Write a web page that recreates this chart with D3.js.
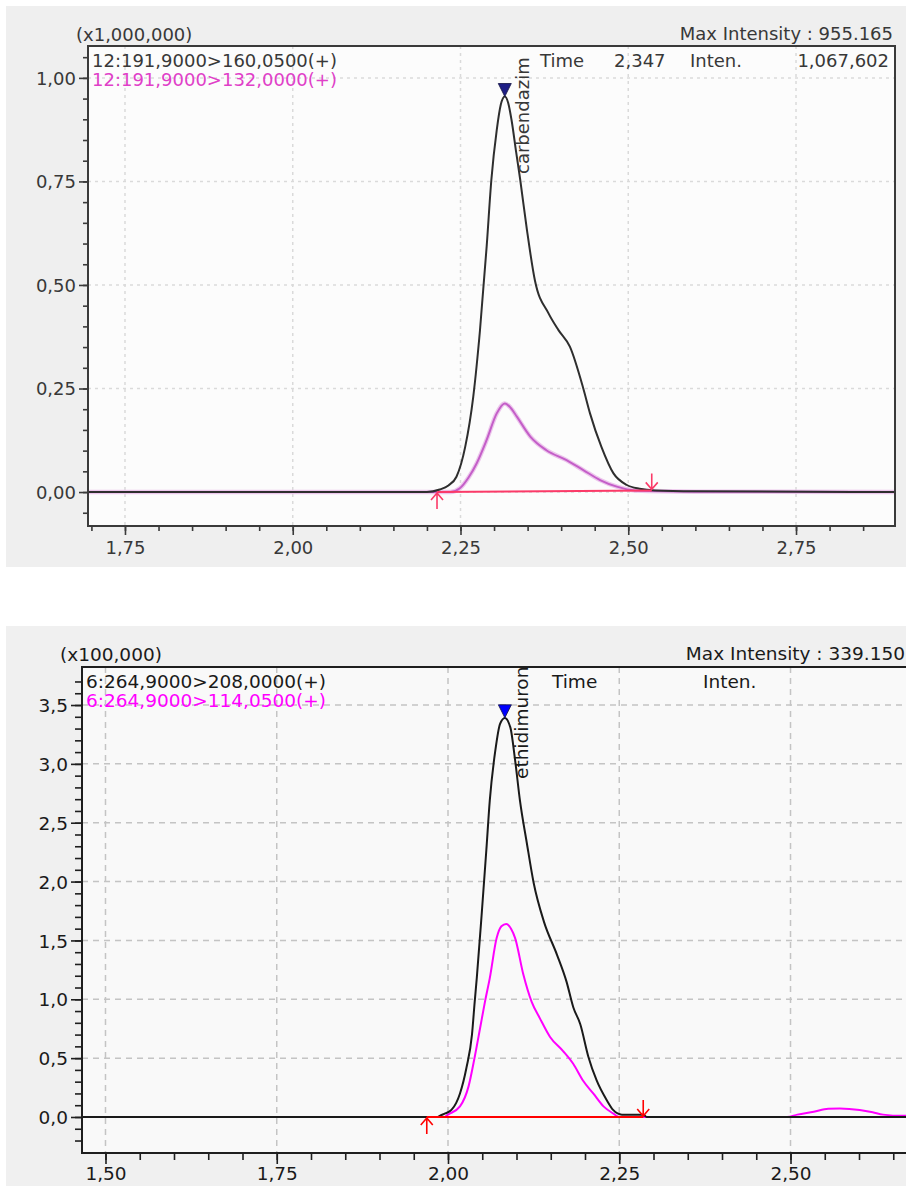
<!DOCTYPE html>
<html>
<head>
<meta charset="utf-8">
<title>MRM chromatograms</title>
<script src="https://cdn.jsdelivr.net/npm/d3@7"></script>
<style>
    body { margin: 0; background: #fff; }
    svg { display: block; }
</style>
</head>
<body>
<svg id="chart" width="906" height="1186"></svg>
<script>
/*global d3*/
(function () {
    "use strict";

    // ---- carbendazim, intensity in units of 1,000,000 ----
    var carbTime = [1.69, 2.20, 2.219, 2.232, 2.244, 2.257, 2.269, 2.279, 2.289, 2.296, 2.304, 2.310, 2.316, 2.321, 2.326, 2.333, 2.339, 2.349, 2.361, 2.381, 2.396, 2.413, 2.433, 2.443, 2.460, 2.478, 2.498, 2.517, 2.54, 2.60, 2.90];
    var carbQuant = [0, 0, 0.006, 0.016, 0.037, 0.109, 0.23, 0.39, 0.593, 0.754, 0.874, 0.935, 0.955, 0.94, 0.899, 0.82, 0.754, 0.633, 0.51, 0.432, 0.391, 0.351, 0.25, 0.19, 0.109, 0.045, 0.017, 0.008, 0.004, 0.002, 0];
    var carbQualTime = [1.69, 2.235, 2.249, 2.262, 2.274, 2.289, 2.304, 2.316, 2.325, 2.334, 2.354, 2.378, 2.408, 2.433, 2.458, 2.483, 2.51, 2.60, 2.90];
    var carbQual = [0, 0, 0.009, 0.035, 0.069, 0.126, 0.19, 0.214, 0.203, 0.182, 0.134, 0.101, 0.077, 0.053, 0.029, 0.013, 0.004, 0.001, 0];
    var carbBounds = [2.215, 2.535];
    var carbBoundLevel = [0, 0.004];
    var carbXTicks = [1.75, 2.00, 2.25, 2.50, 2.75];
    var carbYTicks = [0, 0.25, 0.50, 0.75, 1.00];
    var carbLegend = ["12:191,9000>160,0500(+)", "12:191,9000>132,0000(+)"];
    var carbInfo = ["Time", "2,347", "Inten.", "1,067,602"];

    // ---- ethidimuron, intensity in units of 100,000 ----
    var ethTime = [1.46, 1.985, 1.988, 1.996, 2.005, 2.012, 2.0175, 2.027, 2.035, 2.039, 2.042, 2.049, 2.056, 2.061, 2.069, 2.076, 2.083, 2.091, 2.098, 2.105, 2.115, 2.125, 2.140, 2.159, 2.173, 2.183, 2.193, 2.205, 2.217, 2.232, 2.241, 2.254, 2.285, 2.29, 2.67];
    var ethQuant = [0, 0, 0.01, 0.03, 0.06, 0.12, 0.2, 0.42, 0.70, 0.98, 1.18, 1.71, 2.27, 2.69, 3.11, 3.34, 3.39, 3.31, 3.03, 2.69, 2.33, 1.99, 1.66, 1.38, 1.15, 0.93, 0.79, 0.51, 0.31, 0.14, 0.06, 0.02, 0.02, 0, 0];
    var ethQualTime = [1.46, 1.995, 2.0, 2.0175, 2.030, 2.039, 2.047, 2.054, 2.061, 2.071, 2.078, 2.085, 2.092, 2.098, 2.110, 2.122, 2.134, 2.149, 2.168, 2.183, 2.197, 2.212, 2.227, 2.241, 2.25, 2.495, 2.51, 2.534, 2.555, 2.572, 2.601, 2.62, 2.635, 2.664, 2.67];
    var ethQual = [0, 0, 0.02, 0.09, 0.26, 0.51, 0.76, 0.98, 1.18, 1.52, 1.62, 1.64, 1.60, 1.52, 1.21, 0.98, 0.84, 0.68, 0.56, 0.45, 0.31, 0.20, 0.09, 0.03, 0, 0, 0.02, 0.045, 0.07, 0.073, 0.06, 0.04, 0.02, 0.01, 0.01];
    var ethBounds = [1.969, 2.285];
    var ethBoundLevel = [0, 0];
    var ethXTicks = [1.50, 1.75, 2.00, 2.25, 2.50];
    var ethYTicks = [0, 0.5, 1.0, 1.5, 2.0, 2.5, 3.0, 3.5];
    var ethLegend = ["6:264,9000>208,0000(+)", "6:264,9000>114,0500(+)"];
    var ethInfo = ["Time", "Inten."];

    var peakNames = ["carbendazim", "ethidimuron"];
    var peakTimes = [2.316, 2.083];
    var peakHeights = [0.955, 3.3915];
    var multipliers = ["(x1,000,000)", "(x100,000)"];
    var maxIntensities = ["Max Intensity : 955.165", "Max Intensity : 339.150"];

    var svg = d3.select("#chart"),
        font = "DejaVu Sans",
        locale = d3.formatLocale({decimal: ",", thousands: ".", grouping: [3], currency: ["", ""]});

    function pairs(t, v) {
        return d3.zip(t, v);
    }

    function drawPanel(p) {
        var g = svg.append("g"),
            x = p.x,
            y = p.y,
            left = x.range()[0],
            right = x.range()[1],
            top = y.range()[1],
            bottom = y.range()[0],
            line = d3.line().curve(d3.curveMonotoneX)
                .x(function (d) { return x(d[0]); })
                .y(function (d) { return y(d[1]); }),
            plot,
            px,
            py,
            axis;

        g.append("rect")
            .attr("x", p.bg[0]).attr("y", p.bg[1])
            .attr("width", p.bg[2]).attr("height", p.bg[3])
            .attr("fill", p.bgColor);
        g.append("rect")
            .attr("x", left).attr("y", top)
            .attr("width", p.frameRight - left).attr("height", bottom - top)
            .attr("fill", p.plotColor);

        g.append("clipPath").attr("id", p.id + "-clip")
            .append("rect")
            .attr("x", left).attr("y", top)
            .attr("width", right - left).attr("height", bottom - top);

        // grid
        g.append("g").selectAll("line").data(p.xTicks).join("line")
            .attr("x1", function (d) { return x(d); })
            .attr("x2", function (d) { return x(d); })
            .attr("y1", top).attr("y2", bottom)
            .attr("stroke", p.gridColor).attr("stroke-width", p.gridWidth)
            .attr("stroke-dasharray", p.gridDash);
        g.append("g").selectAll("line").data(p.yTicks).join("line")
            .attr("x1", left).attr("x2", right)
            .attr("y1", function (d) { return y(d); })
            .attr("y2", function (d) { return y(d); })
            .attr("stroke", p.gridColor).attr("stroke-width", p.gridWidth)
            .attr("stroke-dasharray", p.gridDash);

        plot = g.append("g").attr("clip-path", "url(#" + p.id + "-clip)");

        if (p.qualHalo) {
            plot.append("path").datum(pairs(p.qualTime, p.qual))
                .attr("d", line).attr("fill", "none")
                .attr("stroke", p.qualHalo).attr("stroke-width", 4.5);
        }
        plot.append("path").datum(pairs(p.qualTime, p.qual))
            .attr("d", line).attr("fill", "none")
            .attr("stroke", p.qualColor).attr("stroke-width", p.lineWidth);
        plot.append("path").datum(pairs(p.time, p.quant))
            .attr("d", line).attr("fill", "none")
            .attr("stroke", p.quantColor).attr("stroke-width", p.lineWidth);

        // integration baseline and its start / end marks
        plot.append("path").datum(pairs(p.bounds, p.boundLevel))
            .attr("d", d3.line().x(function (d) { return x(d[0]); }).y(function (d) { return y(d[1]); }))
            .attr("fill", "none")
            .attr("stroke", p.baseColor).attr("stroke-width", 2);

        px = x(p.bounds[0]);
        py = y(p.boundLevel[0]);
        g.append("path")
            .attr("d", "M" + px + "," + (py + 17) + "V" + (py + 1) +
                "M" + (px - 6) + "," + (py + 8) + "L" + px + "," + (py + 1) + "L" + (px + 6) + "," + (py + 8))
            .attr("fill", "none").attr("stroke", p.baseColor).attr("stroke-width", 1.6);
        px = x(p.bounds[1]);
        py = y(p.boundLevel[1]);
        g.append("path")
            .attr("d", "M" + px + "," + (py - 17) + "V" + (py - 1) +
                "M" + (px - 6) + "," + (py - 8) + "L" + px + "," + (py - 1) + "L" + (px + 6) + "," + (py - 8))
            .attr("fill", "none").attr("stroke", p.baseColor).attr("stroke-width", 1.6);

        // peak top marker and name
        px = x(p.peakTime);
        py = y(p.peakHeight);
        g.append("path")
            .attr("d", "M" + (px - 6.5) + "," + (py - 13) + "H" + (px + 6.5) + "L" + px + "," + py + "Z")
            .attr("fill", p.markColor).attr("stroke", "#101040").attr("stroke-width", 0.8);
        g.append("text")
            .attr("transform", "translate(" + (px + p.nameDx) + "," + p.nameY + ") rotate(-90)")
            .attr("font-family", font).attr("font-size", p.fontSize)
            .attr("fill", p.textColor)
            .text(p.name);

        // frame
        g.append("rect")
            .attr("x", left).attr("y", top)
            .attr("width", p.frameRight - left).attr("height", bottom - top)
            .attr("fill", "none").attr("stroke", p.frameColor).attr("stroke-width", 2);

        // axes
        function styleAxis(sel) {
            sel.select(".domain").remove();
            sel.selectAll("line").attr("stroke", p.frameColor).attr("stroke-width", 1.6);
            sel.selectAll("text").attr("font-family", font).attr("font-size", p.fontSize)
                .attr("fill", p.textColor);
        }

        axis = g.append("g").attr("transform", "translate(" + left + ",0)")
            .call(d3.axisLeft(y).tickValues(p.yMinor).tickSize(p.minorLen).tickFormat(""));
        styleAxis(axis);
        axis = g.append("g").attr("transform", "translate(" + left + ",0)")
            .call(d3.axisLeft(y).tickValues(p.yTicks).tickSize(p.majorLen).tickPadding(3)
                .tickFormat(locale.format(p.yFormat)));
        styleAxis(axis);
        axis.selectAll("text").attr("dy", "0.36em");

        axis = g.append("g").attr("transform", "translate(0," + bottom + ")")
            .call(d3.axisBottom(x).tickValues(p.xMinor).tickSize(p.minorLen).tickFormat(""));
        styleAxis(axis);
        axis = g.append("g").attr("transform", "translate(0," + bottom + ")")
            .call(d3.axisBottom(x).tickValues(p.xTicks).tickSize(p.majorLen).tickPadding(p.xPad)
                .tickFormat(locale.format(".2f")));
        styleAxis(axis);

        // header texts
        g.append("text").attr("x", p.multX).attr("y", p.headY)
            .attr("font-family", font).attr("font-size", p.fontSize).attr("fill", p.textColor)
            .text(p.multiplier);
        g.append("text").attr("x", p.maxX).attr("y", p.headY - 1)
            .attr("text-anchor", "end")
            .attr("font-family", font).attr("font-size", p.fontSize).attr("fill", p.textColor)
            .text(p.maxText);

        g.append("g").selectAll("text").data(p.legend).join("text")
            .attr("x", left + 4)
            .attr("y", function (d, i) { return top + 21 + i * 19; })
            .attr("font-family", font).attr("font-size", p.fontSize)
            .attr("fill", function (d, i) { return i === 0 ? p.textColor : p.qualText; })
            .text(function (d) { return d; });

        g.append("g").selectAll("text").data(p.info).join("text")
            .attr("x", function (d, i) { return p.infoX[i]; })
            .attr("y", top + 21)
            .attr("text-anchor", function (d, i) { return p.infoAnchor[i]; })
            .attr("font-family", font).attr("font-size", p.fontSize)
            .attr("fill", p.textColor)
            .text(function (d) { return d; });
    }

    drawPanel({
        id: "carb",
        x: d3.scaleLinear().domain([1.6949, 2.8975]).range([88, 895]),
        y: d3.scaleLinear().domain([-0.082, 1.077]).range([526, 46]),
        frameRight: 895,
        bg: [6, 6, 900, 561],
        bgColor: "#efefef",
        plotColor: "#fcfcfc",
        gridColor: "#dadada",
        gridWidth: 1.5,
        gridDash: "3,4",
        frameColor: "#3a3a3a",
        textColor: "#383838",
        qualText: "#e040c8",
        fontSize: 18,
        time: carbTime,
        quant: carbQuant,
        qualTime: carbQualTime,
        qual: carbQual,
        quantColor: "#2e2e2e",
        qualColor: "#c45ec8",
        qualHalo: "#ecc6ec",
        lineWidth: 2,
        baseColor: "#fb3a68",
        bounds: carbBounds,
        boundLevel: carbBoundLevel,
        peakTime: peakTimes[0],
        peakHeight: peakHeights[0],
        markColor: "#1e1e86",
        name: peakNames[0],
        nameDx: 24,
        nameY: 174,
        xTicks: carbXTicks,
        yTicks: carbYTicks,
        xMinor: d3.range(1.70, 2.86, 0.05),
        yMinor: d3.range(-0.05, 1.06, 0.05),
        majorLen: 9,
        minorLen: 5,
        xPad: 6,
        yFormat: ".2f",
        multiplier: multipliers[0],
        multX: 76,
        headY: 41,
        maxText: maxIntensities[0],
        maxX: 893,
        legend: carbLegend,
        info: carbInfo,
        infoX: [540, 614, 690, 889],
        infoAnchor: ["start", "start", "start", "end"]
    });

    drawPanel({
        id: "eth",
        x: d3.scaleLinear().domain([1.4657, 2.6686]).range([82, 906]),
        y: d3.scaleLinear().domain([-0.306, 3.823]).range([1153, 667]),
        frameRight: 912,
        bg: [6, 626, 900, 560],
        bgColor: "#f0f0f0",
        plotColor: "#f9f9f9",
        gridColor: "#c4c4c4",
        gridWidth: 1.5,
        gridDash: "6,5",
        frameColor: "#1e1e1e",
        textColor: "#1a1a1a",
        qualText: "#ff00ff",
        fontSize: 18.5,
        time: ethTime,
        quant: ethQuant,
        qualTime: ethQualTime,
        qual: ethQual,
        quantColor: "#1a1a1a",
        qualColor: "#ff00ff",
        qualHalo: null,
        lineWidth: 2,
        baseColor: "#ff0000",
        bounds: ethBounds,
        boundLevel: ethBoundLevel,
        peakTime: peakTimes[1],
        peakHeight: peakHeights[1],
        markColor: "#0000ff",
        name: peakNames[1],
        nameDx: 23,
        nameY: 779,
        xTicks: ethXTicks,
        yTicks: ethYTicks,
        xMinor: d3.range(1.50, 2.66, 0.05),
        yMinor: d3.range(-0.2, 3.75, 0.1),
        majorLen: 11,
        minorLen: 7,
        xPad: 3,
        yFormat: ".1f",
        multiplier: multipliers[1],
        multX: 60,
        headY: 661,
        maxText: maxIntensities[1],
        maxX: 905,
        legend: ethLegend,
        info: ethInfo,
        infoX: [552, 703],
        infoAnchor: ["start", "start"]
    });
}());
</script>
</body>
</html>
